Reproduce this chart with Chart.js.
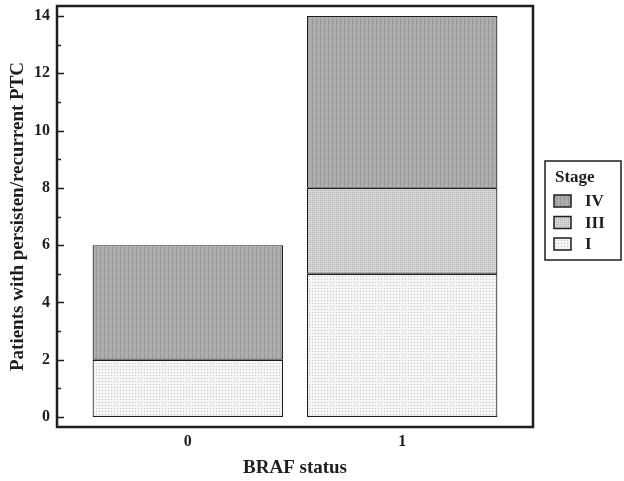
<!DOCTYPE html>
<html>
<head>
<meta charset="utf-8">
<script src="https://cdn.jsdelivr.net/npm/chart.js@4"></script>
<style>
  html, body { margin: 0; padding: 0; background: #fff; }
  #wrap { width: 624px; height: 481px; }
</style>
</head>
<body>
<div id="wrap"><canvas id="c" width="624" height="481"></canvas></div>
<script>
// ---- data ----
const categories = ['0', '1'];
const categoryX = [0, 1];
const stageI = [2, 5];
const stageIII = [0, 3];
const stageIV = [4, 6];
const stageNames = ['I', 'III', 'IV'];
const yTickValues = [0, 2, 4, 6, 8, 10, 12, 14];
const yMinorValues = [1, 3, 5, 7, 9, 11, 13];
const legendTitle = 'Stage';
const xTitle = 'BRAF status';
const yTitle = 'Patients with persisten/recurrent PTC';

const FONT = "'Liberation Serif', 'DejaVu Serif', serif";
const INK = '#1e1e1e';

function makePattern(w, h, base, dots) {
  const c = document.createElement('canvas');
  c.width = w; c.height = h;
  const g = c.getContext('2d');
  g.fillStyle = base; g.fillRect(0, 0, w, h);
  dots.forEach(d => { g.fillStyle = d[2]; g.fillRect(d[0], d[1], d[3] || 1, d[4] || 1); });
  return g.createPattern(c, 'repeat');
}
const patIV = makePattern(4, 4, '#a9a9a9', [[0,0,'#9a9a9a',1,4],[2,0,'#bcbcbc'],[2,2,'#b8b8b8']]);
const patIII = makePattern(2, 2, '#d6d6d6', [[0,0,'#b3b3b3']]);
const patI = makePattern(3, 3, '#f5f5f5', [[0,0,'#c4c4c4']]);
const patterns = [patI, patIII, patIV];
const seriesValues = [stageI, stageIII, stageIV];

const datasets = stageNames.map((name, k) => ({
  label: name,
  data: categoryX.map((x, i) => ({ x: x, y: seriesValues[k][i] })),
  backgroundColor: patterns[k],
  borderColor: INK,
  borderWidth: 1.2,
  borderSkipped: false,
  categoryPercentage: 1,
  barPercentage: 0.888
}));

const framePlugin = {
  id: 'frame',
  afterDatasetsDraw(chart) {
    const { ctx, chartArea: a, scales } = chart;
    ctx.save();
    ctx.strokeStyle = INK;
    ctx.lineWidth = 1.5;
    const left = a.left;
    yTickValues.forEach(v => {
      const y = Math.round(scales.y.getPixelForValue(v)) + 0.5;
      ctx.beginPath(); ctx.moveTo(left, y); ctx.lineTo(left + 7, y); ctx.stroke();
    });
    yMinorValues.forEach(v => {
      const y = Math.round(scales.y.getPixelForValue(v)) + 0.5;
      ctx.beginPath(); ctx.moveTo(left, y); ctx.lineTo(left + 4, y); ctx.stroke();
    });
    ctx.lineWidth = 2.5;
    ctx.strokeRect(a.left, a.top, a.right - a.left, a.bottom - a.top);
    ctx.restore();
  },
  afterDraw(chart) {
    const { ctx } = chart;
    ctx.save();
    const bx = 545, by = 161, bw = 76, bh = 99;
    ctx.strokeStyle = INK; ctx.lineWidth = 1.5;
    ctx.fillStyle = '#fff';
    ctx.fillRect(bx, by, bw, bh);
    ctx.strokeRect(bx, by, bw, bh);
    ctx.fillStyle = INK;
    ctx.textBaseline = 'middle';
    ctx.textAlign = 'left';
    ctx.font = 'bold 17px ' + FONT;
    ctx.fillText(legendTitle, 555, 178);
    const order = [2, 1, 0];
    order.forEach((k, j) => {
      const cy = 201 + j * 21.5;
      ctx.fillStyle = patterns[k];
      ctx.fillRect(554, cy - 6, 17, 12);
      ctx.strokeStyle = INK; ctx.lineWidth = 1.5;
      ctx.strokeRect(554, cy - 6, 17, 12);
      ctx.fillStyle = INK;
      ctx.font = 'bold 17px ' + FONT;
      ctx.fillText(stageNames[k], 585, cy + 1);
    });
    ctx.restore();
  }
};

new Chart(document.getElementById('c'), {
  type: 'bar',
  data: { datasets },
  options: {
    responsive: false,
    animation: false,
    layout: { padding: { top: 6, right: 91, left: 0, bottom: 0 } },
    plugins: { legend: { display: false }, tooltip: { enabled: false } },
    scales: {
      x: {
        type: 'linear',
        offset: false,
        stacked: true,
        min: -0.61,
        max: 1.61,
        grid: { display: false, drawTicks: false, offset: false },
        border: { display: false },
        afterBuildTicks: s => { s.ticks = categoryX.map(v => ({ value: v })); },
        afterFit: s => { s.height = 54; s.paddingLeft = 0; s.paddingRight = 0; },
        ticks: {
          padding: 5,
          color: INK,
          font: { family: FONT, weight: 'bold', size: 16 },
          callback: (v) => categories[categoryX.indexOf(v)] ?? ''
        },
        title: {
          display: true, text: xTitle, color: INK,
          font: { family: FONT, weight: 'bold', size: 19 },
          padding: { top: 2, bottom: 2 }
        }
      },
      y: {
        type: 'linear',
        stacked: true,
        min: -0.35,
        max: 14.35,
        grid: { display: false, drawTicks: false },
        border: { display: false },
        afterBuildTicks: s => { s.ticks = yTickValues.map(v => ({ value: v })); },
        afterFit: s => { s.width = 57; s.paddingTop = 0; s.paddingBottom = 0; },
        ticks: {
          padding: 7,
          color: INK,
          font: { family: FONT, weight: 'bold', size: 16 },
          callback: v => String(v)
        },
        title: {
          display: true, text: yTitle, color: INK,
          font: { family: FONT, weight: 'bold', size: 19 },
          padding: { top: 7, bottom: 0 }
        }
      }
    }
  },
  plugins: [framePlugin]
});
</script>
</body>
</html>
